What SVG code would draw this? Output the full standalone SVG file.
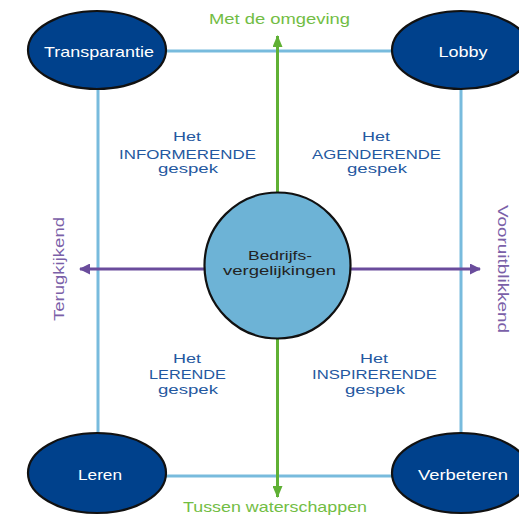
<svg xmlns="http://www.w3.org/2000/svg" width="519" height="516" viewBox="0 0 519 516">
  <defs>
    <marker id="headGreen" viewBox="0 0 12 10" refX="11" refY="5" markerWidth="12" markerHeight="10" markerUnits="userSpaceOnUse" orient="auto">
      <path d="M0,0 L12,5 L0,10 Z" fill="#5fb034"/>
    </marker>
    <marker id="headPurple" viewBox="0 0 11 11" refX="10" refY="5.5" markerWidth="11" markerHeight="11" markerUnits="userSpaceOnUse" orient="auto">
      <path d="M0,0 L11,5.5 L0,11 Z" fill="#6a4c9c"/>
    </marker>
    <style>
      .frame { fill: none; stroke: #78bbdd; stroke-width: 3; }
      .node { fill: #00418c; stroke: #111; stroke-width: 2.2; }
      .hub { fill: #6db3d6; stroke: #111; stroke-width: 2.2; }
      .nodeText { font-family: "Liberation Sans", Arial, sans-serif; font-size: 15px; fill: #ffffff; text-anchor: middle; }
      .hubText { font-family: "Liberation Sans", Arial, sans-serif; font-size: 13.5px; fill: #222; text-anchor: middle; }
      .quad { font-family: "Liberation Sans", Arial, sans-serif; font-size: 13.5px; fill: #2458a0; text-anchor: middle; }
      .axisG { font-family: "Liberation Sans", Arial, sans-serif; font-size: 14.5px; fill: #72bd44; text-anchor: middle; }
      .axisP { font-family: "Liberation Sans", Arial, sans-serif; font-size: 14px; fill: #7a60a8; text-anchor: middle; }
      .greenLine { stroke: #5fb034; stroke-width: 3; fill: none; }
      .purpleLine { stroke: #6a4c9c; stroke-width: 3; fill: none; }
    </style>
  </defs>

  <rect width="519" height="516" fill="#ffffff"/>

  <!-- connectors: outer frame and the two axes -->
  <g id="connectors">
    <rect class="frame" x="98" y="51" width="363" height="425"/>
    <line class="greenLine" x1="277.5" y1="265" x2="277.5" y2="36" marker-end="url(#headGreen)"/>
    <line class="greenLine" x1="277.5" y1="265" x2="277.5" y2="497" marker-end="url(#headGreen)"/>
    <line class="purpleLine" x1="277" y1="269" x2="80" y2="269" marker-end="url(#headPurple)"/>
    <line class="purpleLine" x1="277" y1="269" x2="480" y2="269" marker-end="url(#headPurple)"/>
  </g>

  <!-- corner nodes -->
  <g id="transparantie">
    <ellipse class="node" cx="97" cy="50" rx="69" ry="39"/>
    <text class="nodeText" x="99" y="57" textLength="110" lengthAdjust="spacingAndGlyphs">Transparantie</text>
  </g>
  <g id="lobby">
    <ellipse class="node" cx="461" cy="50" rx="69" ry="39"/>
    <text class="nodeText" x="463" y="57" textLength="49" lengthAdjust="spacingAndGlyphs">Lobby</text>
  </g>
  <g id="leren">
    <ellipse class="node" cx="97" cy="473" rx="69" ry="40"/>
    <text class="nodeText" x="100" y="480" textLength="44" lengthAdjust="spacingAndGlyphs">Leren</text>
  </g>
  <g id="verbeteren">
    <ellipse class="node" cx="461" cy="473" rx="69" ry="40"/>
    <text class="nodeText" x="463" y="480" textLength="90" lengthAdjust="spacingAndGlyphs">Verbeteren</text>
  </g>

  <!-- central hub -->
  <g id="bedrijfsvergelijkingen">
    <circle class="hub" cx="277.5" cy="265.5" r="73"/>
    <text class="hubText" x="280" y="260" textLength="64" lengthAdjust="spacingAndGlyphs">Bedrijfs-</text>
    <text class="hubText" x="279.5" y="275" textLength="113" lengthAdjust="spacingAndGlyphs">vergelijkingen</text>
  </g>

  <!-- axis labels -->
  <g id="axis-labels">
    <text class="axisG" x="279.5" y="24" textLength="141" lengthAdjust="spacingAndGlyphs">Met de omgeving</text>
    <text class="axisG" x="275" y="512" textLength="184" lengthAdjust="spacingAndGlyphs">Tussen waterschappen</text>
    <text class="axisP" transform="translate(64,269) rotate(-90)" x="0" y="0" textLength="104" lengthAdjust="spacingAndGlyphs">Terugkijkend</text>
    <text class="axisP" transform="translate(498,269) rotate(90)" x="0" y="0" textLength="128" lengthAdjust="spacingAndGlyphs">Vooruitblikkend</text>
  </g>

  <!-- quadrant labels -->
  <g id="informerende">
    <text class="quad" x="187" y="141" textLength="28" lengthAdjust="spacingAndGlyphs">Het</text>
    <text class="quad" x="187.5" y="159" textLength="137" lengthAdjust="spacingAndGlyphs">INFORMERENDE</text>
    <text class="quad" x="188" y="173" textLength="60" lengthAdjust="spacingAndGlyphs">gespek</text>
  </g>
  <g id="agenderende">
    <text class="quad" x="376" y="141" textLength="28" lengthAdjust="spacingAndGlyphs">Het</text>
    <text class="quad" x="376.5" y="159" textLength="129" lengthAdjust="spacingAndGlyphs">AGENDERENDE</text>
    <text class="quad" x="377" y="173" textLength="60" lengthAdjust="spacingAndGlyphs">gespek</text>
  </g>
  <g id="lerende">
    <text class="quad" x="187" y="363" textLength="28" lengthAdjust="spacingAndGlyphs">Het</text>
    <text class="quad" x="187.5" y="379" textLength="77" lengthAdjust="spacingAndGlyphs">LERENDE</text>
    <text class="quad" x="188" y="394" textLength="60" lengthAdjust="spacingAndGlyphs">gespek</text>
  </g>
  <g id="inspirerende">
    <text class="quad" x="374" y="363" textLength="28" lengthAdjust="spacingAndGlyphs">Het</text>
    <text class="quad" x="374.5" y="379" textLength="125" lengthAdjust="spacingAndGlyphs">INSPIRERENDE</text>
    <text class="quad" x="375" y="394" textLength="60" lengthAdjust="spacingAndGlyphs">gespek</text>
  </g>
</svg>
